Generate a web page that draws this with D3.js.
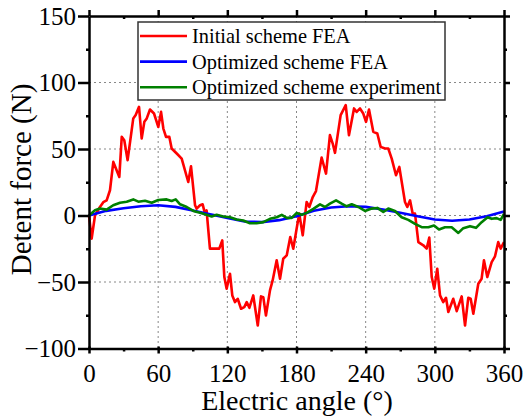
<!DOCTYPE html>
<html>
<head>
<meta charset="utf-8">
<script src="https://cdn.jsdelivr.net/npm/d3@7"></script>
<style>
  body { margin: 0; background: #fff; }
  svg { font-family: "Liberation Serif", "Times New Roman", serif; }
  .grid line { stroke: #888; stroke-width: 1; stroke-dasharray: 2, 3; }
  .axis path, .axis line { stroke: #000; stroke-width: 2.5; }
  .axis text { font-size: 25px; fill: #000; font-family: "Liberation Serif", "Times New Roman", serif; }
  .curve { fill: none; stroke-width: 2.6; stroke-linejoin: round; }
</style>
</head>
<body>
<div class="d3-wrapper"></div>
<script>
// values
const xTicks = [0, 60, 120, 180, 240, 300, 360];
const xMinor = [30, 90, 150, 210, 270, 330];
const yTicks = [-100, -50, 0, 50, 100, 150];
const yMinor = [-75, -25, 25, 75, 125];
const seriesNames = ['Initial scheme FEA', 'Optimized scheme FEA', 'Optimized scheme experiment'];

const redAngle = [0, 2.3, 5.2, 9.5, 12.4, 15.3, 18.2, 21.1, 26.3, 28.4, 30.6, 33.5, 38.4, 40.5, 43.4, 45.7, 48, 50.1, 52.9, 56.4,
  60.1, 62.5, 64.5, 66.8, 69.7, 71.7, 76.1, 80.4, 86.1, 88.5, 92, 93.4, 96.3, 98.6, 100.6, 102, 104.9, 109.3, 113, 115.6,
  117.4, 119.4, 122.3, 124.3, 126.6, 129, 131.9, 134.7, 136.8, 139.1, 142.5, 146.4, 149.2, 151.2, 153.5, 157, 159.3, 162.8, 165.7, 168.5,
  171.5, 174.6, 177.2, 180.1, 182.4, 185.4, 188.8, 191.1, 194.1, 196.9, 201.8, 205.6, 209, 211.4, 213.4, 218.3, 222.7, 225.5, 229.9, 232.2,
  235.1, 237.9, 240.3, 242.9, 246.6, 250.1, 253, 256.8, 259.6, 262.6, 266.3, 269.2, 274.1, 276.1, 278.5, 280.8, 282.8, 285.7, 290, 292.9,
  295.2, 297.3, 299.5, 302.1, 304.5, 307.3, 309.7, 311.7, 316, 319, 323.3, 326.2, 329, 331.1, 333.4, 337.7, 340.6, 342.6, 345.5, 349.3,
  352.2, 355, 357.1, 360];
const redForce = [0, -17.4, 0, 6.4, 10, 11.4, 19, 40.3, 29, 59.1, 56.6, 41.6, 73, 75.5, 81.7, 57.9, 70.4, 73, 79.7, 76.7,
  66.6, 77.9, 65.4, 59.1, 59.1, 50.4, 46.6, 42.8, 25.2, 37, 7.7, 5.2, 7.7, 8.4, 1.4, 3.9, -24.9, -24.9, -24.9, -18.7,
  -46.3, -55, -43.8, -60.1, -65.1, -62.6, -70.1, -68.9, -65.1, -69.4, -60.1, -82.7, -60.8, -61.4, -75.2, -56.3, -48.8, -33.7, -47.5, -32.5,
  -30, -16.2, -25, -10, 1.4, -14.9, 10.2, 6.4, 13.9, 18.4, 43.6, 31.5, 60.4, 54.1, 47.1, 75.5, 83, 60.4, 80.5, 77.9,
  80.5, 76.7, 70.4, 79.7, 62.9, 61.7, 51.6, 50.4, 50.4, 42.8, 30.3, 36.5, 10.2, 6.4, 11.4, 1.4, 1.4, -20, -22.4, -24.9,
  -16.6, -46.3, -55, -40, -60.1, -65.1, -61.9, -72.6, -62.6, -71.9, -60.8, -82.7, -61.9, -62.6, -73.9, -51.3, -47.5, -33.7, -46.3, -35,
  -30.7, -20, -24.9, -20];

const blueAngle = [0, 15, 30, 45, 60, 75, 90, 105, 120, 135, 150, 165, 180, 195, 210, 225, 240, 255, 270, 285, 300, 315, 330, 345, 360];
const blueForce = [0, 3.5, 5.5, 7, 7.7, 6.5, 3.8, 1, -1.8, -4.5, -5, -3.5, -0.5, 3.5, 6, 7, 6.5, 4.5, 2, -0.5, -3, -4, -3, -0.5, 3];

const greenAngle = [0, 5.2, 9.5, 15.3, 21, 26.9, 32.7, 38.4, 42.8, 48.6, 54.4, 60.1, 67.4, 71.7, 75.2, 79, 84.8, 90.5, 96.3, 102,
  106.4, 110.7, 116.5, 122.3, 128.1, 133.8, 139.6, 145.4, 151.2, 157, 162.8, 167.2, 171.5, 175.8, 180.2, 184.5, 188.8, 194.6, 200.4, 204.7,
  209, 214.3, 219.2, 223.5, 227.9, 233.6, 239.4, 245.2, 250.1, 255.3, 259.6, 265.4, 271.2, 277, 282.8, 288.6, 294.4, 299.3, 303.6, 308.8,
  314.6, 320.4, 324.7, 330.5, 335.7, 340.6, 345.8, 349.3, 353.6, 357.1, 360];
const greenForce = [0, 3.9, 5.2, 4.4, 7.7, 9.6, 10.4, 12.1, 10.4, 11.1, 9.6, 11.6, 12.1, 10.9, 12.1, 8.4, 6.4, 3.4, 2, 0.5,
  -0.8, 0.5, -0.8, -1.3, -3, -3.8, -5.8, -5.8, -5, -2.5, -1.3, 0.5, -1.8, -1.8, 1.9, 0.5, 2, 5, 8.4, 6.4,
  8.9, 11.4, 8.9, 6.9, 8.4, 6.4, 3.4, 5.2, 5.7, 2.6, 5.2, 3.4, -1.3, -3.3, -6.3, -8.8, -8.8, -7.5, -10.5, -8.8,
  -8.8, -13.1, -9.5, -8, -9.3, -5, -1.3, -2.5, -2, -3.3, 1.3];

const MARGIN = { top: 16, right: 21, bottom: 67.5, left: 89 };
const OUTER_WIDTH = 525,
  OUTER_HEIGHT = 416,
  INNER_WIDTH = OUTER_WIDTH - MARGIN.left - MARGIN.right,
  INNER_HEIGHT = OUTER_HEIGHT - MARGIN.top - MARGIN.bottom;

const xScale = d3.scaleLinear().domain([0, 360]).range([0, INNER_WIDTH]);
const yScale = d3.scaleLinear().domain([-100, 150]).range([INNER_HEIGHT, 0]);

const zip = (xs, ys) => xs.map((x, i) => [x, ys[i]]);
const series = [
  { name: seriesNames[0], color: '#ff0000', data: zip(redAngle, redForce) },
  { name: seriesNames[1], color: '#0000ff', data: zip(blueAngle, blueForce) },
  { name: seriesNames[2], color: '#008000', data: zip(greenAngle, greenForce) }
];

const svg = d3.select('.d3-wrapper').append('svg')
  .attr('width', OUTER_WIDTH)
  .attr('height', OUTER_HEIGHT)
  .append('g')
  .attr('transform', `translate(${MARGIN.left}, ${MARGIN.top})`);

// dotted grid
const grid = svg.append('g').attr('class', 'grid');
grid.selectAll('.vg')
  .data(xTicks.slice(1, -1))
  .enter().append('line')
  .attr('x1', d => xScale(d)).attr('x2', d => xScale(d))
  .attr('y1', 0).attr('y2', INNER_HEIGHT);
grid.selectAll('.hg')
  .data(yTicks.slice(1, -1))
  .enter().append('line')
  .attr('x1', 0).attr('x2', INNER_WIDTH)
  .attr('y1', d => yScale(d)).attr('y2', d => yScale(d));

// curves
const line = d3.line().x(d => xScale(d[0])).y(d => yScale(d[1]));
svg.selectAll('.curve')
  .data(series)
  .enter().append('path')
  .attr('class', 'curve')
  .attr('stroke', d => d.color)
  .attr('d', d => line(d.data));

// axes (major)
const xAxis = d3.axisBottom(xScale).tickValues(xTicks).tickFormat(d3.format('d'))
  .tickSizeInner(5).tickSizeOuter(0).tickPadding(11);
const yAxis = d3.axisLeft(yScale).tickValues(yTicks)
  .tickSizeInner(11).tickSizeOuter(0).tickPadding(2);

svg.append('g')
  .attr('class', 'axis')
  .attr('transform', `translate(0, ${INNER_HEIGHT})`)
  .call(xAxis)
  .selectAll('.tick line').attr('y1', -2);

svg.append('g')
  .attr('class', 'axis')
  .call(yAxis);

svg.append('g')
  .attr('class', 'axis')
  .call(d3.axisTop(xScale).tickValues(xTicks).tickFormat('').tickSizeInner(6).tickSizeOuter(0));

svg.append('g')
  .attr('class', 'axis')
  .attr('transform', `translate(${INNER_WIDTH}, 0)`)
  .call(d3.axisRight(yScale).tickValues(yTicks).tickFormat('').tickSizeInner(6).tickSizeOuter(0));

// minor ticks
svg.append('g').attr('class', 'axis')
  .attr('transform', `translate(0, ${INNER_HEIGHT})`)
  .call(d3.axisBottom(xScale).tickValues(xMinor).tickFormat('').tickSize(3))
  .select('.domain').remove();
svg.append('g').attr('class', 'axis')
  .call(d3.axisBottom(xScale).tickValues(xMinor).tickFormat('').tickSize(3))
  .select('.domain').remove();
svg.append('g').attr('class', 'axis')
  .call(d3.axisLeft(yScale).tickValues(yMinor).tickFormat('').tickSize(3))
  .select('.domain').remove();
svg.append('g').attr('class', 'axis')
  .attr('transform', `translate(${INNER_WIDTH}, 0)`)
  .call(d3.axisRight(yScale).tickValues(yMinor).tickFormat('').tickSize(3))
  .select('.domain').remove();

// axis titles
svg.append('text')
  .attr('x', 208)
  .attr('y', INNER_HEIGHT + 61.5)
  .attr('text-anchor', 'middle')
  .style('font-size', '28px')
  .text('Electric angle (°)');

svg.append('text')
  .attr('transform', `translate(${31 - MARGIN.left}, ${179.5 - MARGIN.top}) rotate(-90)`)
  .attr('text-anchor', 'middle')
  .style('font-size', '29px')
  .text('Detent force (N)');

// legend
const legend = svg.append('g').attr('transform', `translate(${138 - MARGIN.left}, ${22 - MARGIN.top})`);
legend.append('rect')
  .attr('width', 307)
  .attr('height', 78)
  .attr('fill', '#fff')
  .attr('stroke', '#333')
  .attr('stroke-width', 1.5);

const item = legend.selectAll('.legend')
  .data(series)
  .enter().append('g')
  .attr('class', 'legend')
  .attr('transform', (d, i) => `translate(0, ${14 + i * 25.6})`);

item.append('line')
  .attr('x1', 2).attr('x2', 49)
  .attr('stroke', d => d.color)
  .attr('stroke-width', 2.6);

item.append('text')
  .attr('x', 54)
  .attr('dy', '.35em')
  .style('font-size', '20.4px')
  .text(d => d.name);
</script>
</body>
</html>
